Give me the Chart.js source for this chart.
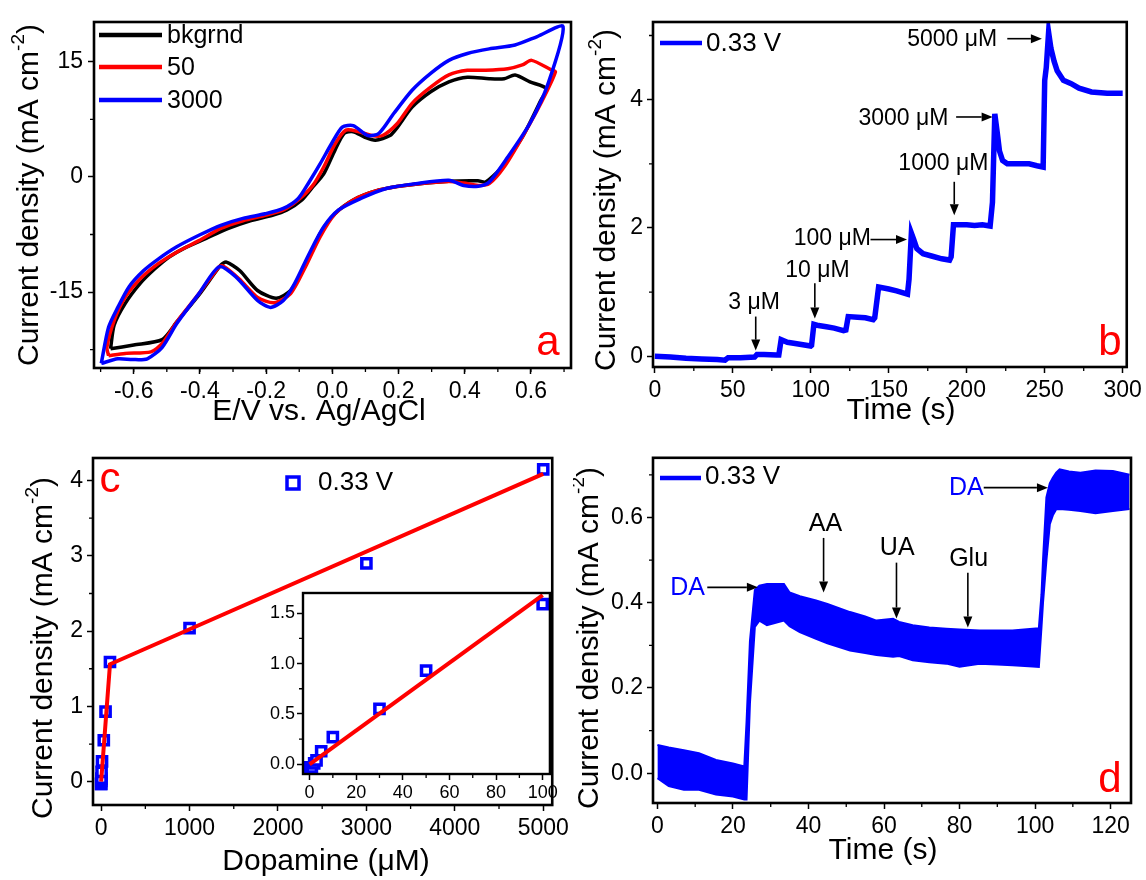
<!DOCTYPE html>
<html>
<head>
<meta charset="utf-8">
<script src="https://cdn.jsdelivr.net/npm/chart.js@4.4.1/dist/chart.umd.min.js"></script>
<style>
  html, body { margin: 0; padding: 0; background: #fff; }
  #fig { position: relative; width: 1146px; height: 880px; overflow: hidden; background: #fff; }
  #fig canvas { position: absolute; }
</style>
</head>
<body>
<div id="fig">
  <canvas id="cvA" width="573" height="440" style="left:0;top:0"></canvas>
  <canvas id="cvB" width="573" height="440" style="left:573px;top:0"></canvas>
  <canvas id="cvC" width="573" height="440" style="left:0;top:440px"></canvas>
  <canvas id="cvInset" width="320" height="225" style="left:240px;top:580px"></canvas>
  <canvas id="cvD" width="573" height="440" style="left:573px;top:440px"></canvas>
</div>
<script>
// ---- panel a: cyclic voltammograms (lower branch left->right, then upper branch back) ----
const bkgrndE = [-0.67, -0.60, -0.514, -0.47, -0.40, -0.337, -0.32, -0.28, -0.226, -0.17, -0.126, -0.08, -0.037, 0.008, 0.063, 0.141, 0.219, 0.352, 0.44, 0.463, 0.508, 0.574, 0.63, 0.647,
  0.597, 0.552, 0.519, 0.474, 0.408, 0.352, 0.297, 0.241, 0.197, 0.174, 0.13, 0.097, 0.063, 0.036, 0.008, -0.026, -0.059, -0.092, -0.137, -0.181, -0.248, -0.314, -0.381, -0.448, -0.492, -0.537, -0.581, -0.626, -0.659, -0.67];
const bkgrndJ = [-22.4, -21.9, -21.2, -18.9, -15.2, -11.5, -11.1, -12.2, -14.8, -15.8, -14.8, -11.3, -7.4, -4.8, -3.0, -1.7, -1.1, -0.57, -0.5, -0.65, 1.1, 5.2, 10.0, 11.5,
  12.4, 13.3, 12.8, 12.8, 13.0, 12.4, 11.1, 9.1, 6.5, 5.4, 4.8, 5.2, 5.9, 5.7, 3.5, 0.4, -1.3, -3.0, -4.3, -5.0, -5.7, -6.7, -8.0, -9.3, -10.4, -12.0, -13.9, -16.5, -19.3, -22.4];

const dopa50E = [-0.676, -0.626, -0.548, -0.514, -0.47, -0.403, -0.342, -0.33, -0.281, -0.226, -0.176, -0.126, -0.081, -0.037, 0.008, 0.063, 0.141, 0.219, 0.352, 0.397, 0.441, 0.474, 0.519, 0.574, 0.63, 0.674,
  0.66, 0.602, 0.574, 0.53, 0.463, 0.408, 0.352, 0.297, 0.241, 0.197, 0.152, 0.119, 0.08, 0.041, 0.008, -0.026, -0.059, -0.103, -0.148, -0.203, -0.27, -0.337, -0.403, -0.47, -0.526, -0.581, -0.626, -0.659, -0.681, -0.676];
const dopa50J = [-23.3, -23.0, -22.8, -21.7, -18.9, -15.2, -11.7, -11.6, -13.3, -15.7, -16.4, -15.2, -11.7, -7.8, -4.8, -3.0, -1.7, -1.1, -0.6, -0.8, -1.1, -0.87, 1.3, 5.2, 9.6, 13.7,
  14.0, 15.2, 14.6, 14.1, 13.9, 13.9, 13.3, 11.7, 9.6, 7.0, 5.4, 5.4, 5.9, 6.1, 4.3, 1.3, -1.1, -3.0, -4.3, -5.0, -5.7, -6.7, -8.3, -9.8, -11.3, -13.3, -15.7, -18.7, -22.2, -23.3];

const dopa3000E = [-0.698, -0.648, -0.603, -0.559, -0.514, -0.47, -0.403, -0.342, -0.292, -0.226, -0.187, -0.148, -0.114, -0.07, -0.026, 0.019, 0.086, 0.163, 0.252, 0.352, 0.397, 0.441, 0.474, 0.53, 0.597, 0.652, 0.697,
  0.619, 0.552, 0.474, 0.408, 0.352, 0.297, 0.241, 0.186, 0.141, 0.108, 0.063, 0.03, -0.003, -0.037, -0.07, -0.103, -0.148, -0.203, -0.27, -0.337, -0.403, -0.47, -0.526, -0.57, -0.614, -0.648, -0.676, -0.698];
const dopa3000J = [-24.3, -23.7, -23.8, -23.7, -22.2, -19.1, -15.2, -11.7, -13.0, -16.1, -17.0, -16.1, -13.9, -10.0, -6.5, -4.3, -2.8, -1.5, -0.87, -0.43, -1.1, -1.2, -0.65, 2.6, 7.0, 12.2, 19.6,
  18.3, 17.2, 16.7, 16.1, 15.2, 13.5, 11.3, 8.3, 5.7, 5.4, 6.7, 6.5, 4.3, 1.7, -0.65, -2.8, -4.1, -4.8, -5.4, -6.3, -7.6, -9.1, -10.7, -12.2, -14.3, -17.0, -19.6, -24.3];

const cvXTicks = [-0.6, -0.4, -0.2, 0.0, 0.2, 0.4, 0.6];
const cvYTicks = [-15, 0, 15];

// ---- panel b: amperometric steps at 0.33 V ----
const ampTime = [0, 10, 20, 30, 40, 45, 47, 55, 64, 65.5, 70, 78, 79.5, 81, 85, 90, 100, 100.5, 102, 105, 110, 115, 121, 122.5, 124, 130, 135, 140, 141, 143.5, 150, 155, 162, 163, 164.5, 166, 168, 172, 178, 184, 189, 190, 191.5, 200, 205, 210, 215, 216.5, 218, 219.5, 221, 223, 226, 235, 240, 245, 249, 250, 251, 252.5, 254, 256, 258, 262, 267, 272, 280, 290, 300];
const ampCurrent = [0.0, -0.01, -0.03, -0.04, -0.05, -0.06, -0.02, -0.02, -0.01, 0.03, 0.03, 0.02, 0.02, 0.26, 0.22, 0.2, 0.16, 0.17, 0.5, 0.48, 0.46, 0.44, 0.4, 0.41, 0.62, 0.61, 0.6, 0.57, 0.6, 1.08, 1.05, 1.02, 0.97, 1.2, 1.92, 1.82, 1.68, 1.6, 1.56, 1.52, 1.5, 1.55, 2.05, 2.05, 2.04, 2.05, 2.03, 2.4, 3.78, 3.5, 3.2, 3.05, 3.0, 3.0, 3.0, 2.97, 2.95, 4.3, 4.5, 5.05, 4.8, 4.6, 4.45, 4.3, 4.25, 4.18, 4.12, 4.1, 4.1];
const ampXTicks = [0, 50, 100, 150, 200, 250, 300];
const ampYTicks = [0, 2, 4];
const ampLabels = ['3 \u03bcM', '10 \u03bcM', '100 \u03bcM', '1000 \u03bcM', '3000 \u03bcM', '5000 \u03bcM'];

// ---- panel c: calibration ----
const doseUM = [0, 1, 2, 3, 5, 10, 30, 50, 100, 1000, 3000, 5000];
const densityUM = [-0.03, -0.03, 0.01, 0.04, 0.13, 0.27, 0.55, 0.93, 1.59, 2.04, 2.90, 4.15];
const fitMainDose = [0, 100, 5000];
const fitMainDensity = [0.0, 1.56, 4.09];
const fitInsetDose = [0, 100];
const fitInsetDensity = [0.0, 1.68];
const calXTicks = [0, 1000, 2000, 3000, 4000, 5000];
const calYTicks = [0, 1, 2, 3, 4];
const insetXTicks = [0, 20, 40, 60, 80, 100];
const insetYTicks = [0.0, 0.5, 1.0, 1.5];

// ---- panel d: interference test (noise band: upper / lower envelope) ----
const selTime = [0, 3, 7, 11, 15.5, 20, 23, 23.6, 24.5, 25.8, 27, 29, 33.5, 35, 37.7, 42, 45, 51, 55, 58, 62.4, 64, 67.6, 72, 76.5, 80, 85.3, 90, 94, 99.4, 101, 101.7, 102.1, 103, 103.9, 104.7, 105.6, 106.5, 109, 112, 116, 120.6, 125];
const selUpper = [0.066, 0.06, 0.054, 0.047, 0.031, 0.023, 0.016, 0.12, 0.31, 0.43, 0.44, 0.444, 0.444, 0.424, 0.415, 0.405, 0.397, 0.378, 0.368, 0.358, 0.362, 0.355, 0.347, 0.342, 0.339, 0.337, 0.335, 0.335, 0.335, 0.339, 0.34, 0.42, 0.5, 0.647, 0.68, 0.693, 0.705, 0.713, 0.708, 0.705, 0.71, 0.709, 0.70];
const selLower = [-0.012, -0.03, -0.039, -0.039, -0.05, -0.055, -0.062, -0.062, 0.164, 0.343, 0.358, 0.347, 0.358, 0.345, 0.331, 0.315, 0.305, 0.288, 0.282, 0.277, 0.273, 0.275, 0.265, 0.26, 0.257, 0.25, 0.257, 0.255, 0.253, 0.25, 0.249, 0.343, 0.40, 0.499, 0.584, 0.605, 0.619, 0.62, 0.618, 0.615, 0.61, 0.615, 0.62];
const selXTicks = [0, 20, 40, 60, 80, 100, 120];
const selYTicks = [0.0, 0.2, 0.4, 0.6];

const FONT = "'Liberation Sans', Arial, sans-serif";
const BLUE = '#0000ff';
const RED = '#ff0000';

const pts = (xs, ys) => xs.map((x, i) => ({ x: x, y: ys[i] }));
const range = (a, b, s) => { const out = []; for (let v = a; v <= b + 1e-9; v += s) out.push(+v.toFixed(6)); return out; };

function axis(a, size, fit) {
    return {
        type: 'linear',
        min: a.min,
        max: a.max,
        afterBuildTicks: s => { s.ticks = a.ticks.map(v => ({ value: v })); },
        afterFit: fit,
        border: { display: false },
        grid: { drawOnChartArea: false, drawTicks: true, tickLength: 6, tickWidth: 1.5, tickColor: '#000' },
        ticks: {
            color: '#000',
            font: { family: FONT, size: size },
            padding: a.pad || 4,
            autoSkip: false,
            maxRotation: 0,
            callback: v => a.fmt(v)
        }
    };
}

function options(p) {
    return {
        responsive: false,
        animation: false,
        events: [],
        layout: { padding: { left: 0, top: p.area.t, right: p.W - p.area.r, bottom: 0 } },
        plugins: { legend: { display: false }, tooltip: { enabled: false } },
        scales: {
            x: axis(p.x, p.font, s => { s.height = p.H - p.area.b; }),
            y: axis(p.y, p.font, s => { s.width = p.area.l; })
        }
    };
}

function txt(ctx, s, x, y, size, color, align) {
    ctx.save();
    ctx.font = size + 'px ' + FONT;
    ctx.fillStyle = color || '#000';
    ctx.textAlign = align || 'center';
    ctx.textBaseline = 'middle';
    ctx.fillText(s, x, y);
    ctx.restore();
}

function arrow(ctx, x1, y1, x2, y2) {
    const a = Math.atan2(y2 - y1, x2 - x1), L = 11, W = 4.5;
    const bx = x2 - L * Math.cos(a), by = y2 - L * Math.sin(a);
    ctx.save();
    ctx.strokeStyle = '#000';
    ctx.fillStyle = '#000';
    ctx.lineWidth = 1.6;
    ctx.beginPath(); ctx.moveTo(x1, y1); ctx.lineTo(bx, by); ctx.stroke();
    ctx.beginPath();
    ctx.moveTo(x2, y2);
    ctx.lineTo(bx + W * Math.sin(a), by - W * Math.cos(a));
    ctx.lineTo(bx - W * Math.sin(a), by + W * Math.cos(a));
    ctx.closePath(); ctx.fill();
    ctx.restore();
}

function yTitle(ctx, x, y, size) {
    const a = 'Current density (mA cm', sup = '-2', c = ')';
    const ss = Math.round(size * 0.62);
    ctx.save();
    ctx.translate(x, y);
    ctx.rotate(-Math.PI / 2);
    ctx.fillStyle = '#000';
    ctx.textBaseline = 'middle';
    ctx.textAlign = 'left';
    ctx.font = size + 'px ' + FONT;
    const wa = ctx.measureText(a).width, wc = ctx.measureText(c).width;
    ctx.font = ss + 'px ' + FONT;
    const wb = ctx.measureText(sup).width;
    const x0 = -(wa + wb + wc) / 2;
    ctx.font = size + 'px ' + FONT; ctx.fillText(a, x0, 0);
    ctx.font = ss + 'px ' + FONT; ctx.fillText(sup, x0 + wa, -size * 0.36);
    ctx.font = size + 'px ' + FONT; ctx.fillText(c, x0 + wa + wb, 0);
    ctx.restore();
}

function frameAndMinor(chart, xMinor, yMinor, lw) {
    const ctx = chart.ctx, area = chart.chartArea, xs = chart.scales.x, ys = chart.scales.y;
    ctx.save();
    ctx.strokeStyle = '#000';
    ctx.lineWidth = 1.3;
    ctx.beginPath();
    xMinor.forEach(v => { const p = xs.getPixelForValue(v); ctx.moveTo(p, area.bottom); ctx.lineTo(p, area.bottom + 4); });
    yMinor.forEach(v => { const p = ys.getPixelForValue(v); ctx.moveTo(area.left, p); ctx.lineTo(area.left - 4, p); });
    ctx.stroke();
    ctx.lineWidth = lw || 2.6;
    ctx.strokeRect(area.left, area.top, area.right - area.left, area.bottom - area.top);
    ctx.restore();
}

function legendLine(ctx, x1, x2, y, color) {
    ctx.save(); ctx.strokeStyle = color; ctx.lineWidth = 4.5; ctx.lineCap = 'butt';
    ctx.beginPath(); ctx.moveTo(x1, y); ctx.lineTo(x2, y); ctx.stroke(); ctx.restore();
}

// ---------- panel a ----------
new Chart(document.getElementById('cvA'), {
    type: 'scatter',
    data: {
        datasets: [
            { label: 'bkgrnd', data: pts(bkgrndE, bkgrndJ), showLine: true, borderColor: '#000', borderWidth: 3.5, pointRadius: 0, tension: 0.25, order: 2 },
            { label: '50', data: pts(dopa50E, dopa50J), showLine: true, borderColor: RED, borderWidth: 3.5, pointRadius: 0, tension: 0.25, order: 1 },
            { label: '3000', data: pts(dopa3000E, dopa3000J), showLine: true, borderColor: BLUE, borderWidth: 3.5, pointRadius: 0, tension: 0.25, order: 0 }
        ]
    },
    options: options({
        W: 573, H: 440, font: 23,
        area: { l: 94, t: 22, r: 571, b: 368 },
        x: { min: -0.72, max: 0.721, ticks: cvXTicks, fmt: v => v.toFixed(1) },
        y: { min: -24.9, max: 20.2, ticks: cvYTicks, fmt: v => String(v), pad: 5 }
    }),
    plugins: [{
        id: 'decorA',
        afterDraw(chart) {
            const ctx = chart.ctx;
            frameAndMinor(chart, range(-0.7, 0.7, 0.1), [-22.5, -7.5, 7.5]);
            yTitle(ctx, 30, 195, 30);
            txt(ctx, 'E/V vs. Ag/AgCl', 319, 412, 30);
            legendLine(ctx, 99, 162, 35, '#000');
            legendLine(ctx, 99, 162, 67, RED);
            legendLine(ctx, 99, 162, 100, BLUE);
            txt(ctx, 'bkgrnd', 167, 36, 25, '#000', 'left');
            txt(ctx, '50', 167, 68, 25, '#000', 'left');
            txt(ctx, '3000', 167, 101, 25, '#000', 'left');
            txt(ctx, 'a', 548, 343, 42, RED);
        }
    }]
});

// ---------- panel b ----------
new Chart(document.getElementById('cvB'), {
    type: 'scatter',
    data: {
        datasets: [
            { label: '0.33 V', data: pts(ampTime, ampCurrent), showLine: true, borderColor: BLUE, borderWidth: 5.5, pointRadius: 0, tension: 0 }
        ]
    },
    options: options({
        W: 573, H: 440, font: 23,
        area: { l: 80, t: 22, r: 558, b: 367 },
        x: { min: -1.17, max: 302.6, ticks: ampXTicks, fmt: v => String(v) },
        y: { min: -0.166, max: 5.21, ticks: ampYTicks, fmt: v => String(v) }
    }),
    plugins: [{
        id: 'decorB',
        afterDraw(chart) {
            const ctx = chart.ctx, xs = chart.scales.x, ys = chart.scales.y;
            const X = v => xs.getPixelForValue(v), Y = v => ys.getPixelForValue(v);
            frameAndMinor(chart, range(25, 275, 50), [1, 3, 5]);
            yTitle(ctx, 34, 200, 30);
            txt(ctx, 'Time (s)', 328, 411, 30);
            legendLine(ctx, 87, 129, 43, BLUE);
            txt(ctx, '0.33 V', 133, 44, 26, '#000', 'left');
            txt(ctx, ampLabels[0], X(63.6), Y(0.84), 23);
            arrow(ctx, X(64.7), Y(0.62), X(64.7), Y(0.09));
            txt(ctx, ampLabels[1], X(104.3), Y(1.34), 23);
            arrow(ctx, X(102.6), Y(1.14), X(102.6), Y(0.59));
            txt(ctx, ampLabels[2], X(113.8), Y(1.84), 23);
            arrow(ctx, X(138.3), Y(1.82), X(161.7), Y(1.82));
            txt(ctx, ampLabels[3], X(185), Y(3.0), 23);
            arrow(ctx, X(192), Y(2.72), X(192), Y(2.2));
            txt(ctx, ampLabels[4], X(159.4), Y(3.71), 23);
            arrow(ctx, X(193.2), Y(3.73), X(216.6), Y(3.73));
            txt(ctx, ampLabels[5], X(190.7), Y(4.94), 23);
            arrow(ctx, X(226), Y(4.95), X(248.2), Y(4.95));
            txt(ctx, 'b', 537, 343, 42, RED);
        }
    }]
});

// ---------- panel c ----------
const squareStyle = { pointStyle: 'rect', pointRadius: 6.5, pointBorderWidth: 3.5, pointBorderColor: BLUE, pointBackgroundColor: '#fff', showLine: false };

new Chart(document.getElementById('cvC'), {
    type: 'scatter',
    data: {
        datasets: [
            { label: 'fit', data: pts(fitMainDose, fitMainDensity), showLine: true, borderColor: RED, borderWidth: 4, pointRadius: 0, order: 0 },
            Object.assign({ label: '0.33 V', data: pts(doseUM, densityUM), order: 1 }, squareStyle)
        ]
    },
    options: options({
        W: 573, H: 440, font: 23,
        area: { l: 93, t: 18, r: 569, b: 365 },
        x: { min: -92, max: 5102, ticks: calXTicks, fmt: v => String(v) },
        y: { min: -0.31, max: 4.3, ticks: calYTicks, fmt: v => String(v) }
    }),
    plugins: [{
        id: 'decorC',
        afterDraw(chart) {
            const ctx = chart.ctx;
            frameAndMinor(chart, range(500, 4500, 1000), [0.5, 1.5, 2.5, 3.5]);
            yTitle(ctx, 44, 208, 30);
            txt(ctx, 'Dopamine (\u03bcM)', 326, 422, 30);
            ctx.save();
            ctx.strokeStyle = BLUE; ctx.lineWidth = 3.5;
            ctx.strokeRect(287, 37, 12, 12);
            ctx.restore();
            txt(ctx, '0.33 V', 318, 43, 26, '#000', 'left');
            txt(ctx, 'c', 110, 40, 42, RED);
        }
    }]
});

new Chart(document.getElementById('cvInset'), {
    type: 'scatter',
    data: {
        datasets: [
            { label: 'fit', data: pts(fitInsetDose, fitInsetDensity), showLine: true, borderColor: RED, borderWidth: 4, pointRadius: 0, order: 0 },
            Object.assign({ label: '0.33 V', data: pts(doseUM, densityUM).filter(p => p.x <= 100), order: 1 }, squareStyle)
        ]
    },
    options: options({
        W: 320, H: 225, font: 18,
        area: { l: 63, t: 13, r: 313, b: 194 },
        x: { min: -2.8, max: 103.1, ticks: insetXTicks, fmt: v => String(v), pad: 2 },
        y: { min: -0.096, max: 1.70, ticks: insetYTicks, fmt: v => v.toFixed(1), pad: 2 }
    }),
    plugins: [{
        id: 'insetBg',
        beforeDraw(chart) {
            const a = chart.chartArea, ctx = chart.ctx;
            ctx.save(); ctx.fillStyle = '#fff'; ctx.fillRect(a.left, a.top, a.right - a.left, a.bottom - a.top); ctx.restore();
        },
        afterDraw(chart) {
            frameAndMinor(chart, range(10, 90, 20), [0.25, 0.75, 1.25], 2.4);
        }
    }]
});

// ---------- panel d ----------
new Chart(document.getElementById('cvD'), {
    type: 'scatter',
    data: {
        datasets: [
            { label: 'lower', data: pts(selTime, selLower), showLine: true, borderColor: BLUE, borderWidth: 2, pointRadius: 0, fill: false },
            { label: '0.33 V', data: pts(selTime, selUpper), showLine: true, borderColor: BLUE, borderWidth: 2, pointRadius: 0, fill: '-1', backgroundColor: BLUE }
        ]
    },
    options: options({
        W: 573, H: 440, font: 23,
        area: { l: 80, t: 17, r: 558, b: 363 },
        x: { min: -1.17, max: 125.4, ticks: selXTicks, fmt: v => String(v) },
        y: { min: -0.07, max: 0.74, ticks: selYTicks, fmt: v => v.toFixed(1) }
    }),
    plugins: [{
        id: 'decorD',
        afterDraw(chart) {
            const ctx = chart.ctx, xs = chart.scales.x, ys = chart.scales.y;
            const X = v => xs.getPixelForValue(v), Y = v => ys.getPixelForValue(v);
            frameAndMinor(chart, range(10, 110, 20), [0.1, 0.3, 0.5, 0.7]);
            yTitle(ctx, 17, 198, 30);
            txt(ctx, 'Time (s)', 310, 411, 30);
            legendLine(ctx, 87, 128, 38, BLUE);
            txt(ctx, '0.33 V', 132, 37, 26, '#000', 'left');
            txt(ctx, 'DA', X(8.0), Y(0.435), 25, BLUE);
            arrow(ctx, X(13.2), Y(0.436), X(26.6), Y(0.436));
            txt(ctx, 'AA', X(44.5), Y(0.585), 25);
            arrow(ctx, X(44.0), Y(0.552), X(44.0), Y(0.424));
            txt(ctx, 'UA', X(63.5), Y(0.527), 25);
            arrow(ctx, X(63.3), Y(0.494), X(63.3), Y(0.363));
            txt(ctx, 'Glu', X(82.4), Y(0.503), 25);
            arrow(ctx, X(82.2), Y(0.47), X(82.2), Y(0.342));
            txt(ctx, 'DA', X(81.8), Y(0.67), 25, BLUE);
            arrow(ctx, X(86.4), Y(0.67), X(103.4), Y(0.67));
            txt(ctx, 'd', 537, 340, 42, RED);
        }
    }]
});
</script>
</body>
</html>
